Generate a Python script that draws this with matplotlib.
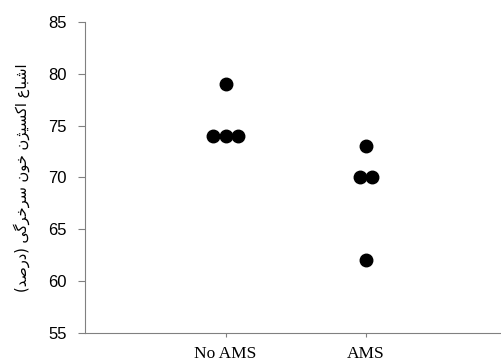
import matplotlib
matplotlib.use('Agg')
import matplotlib.pyplot as plt
import numpy as np

# data
groups = ['No AMS', 'AMS']
no_ams = [79, 74, 74, 74]
ams = [73, 70, 70, 62]
ylabel_fa = 'اشباع اکسیژن خون سرخرگی (درصد)'

# tiny persian shaper (matplotlib does no arabic shaping)
forms = {
    'ا': ('\uFE8D', '\uFE8E', None, None),
    'ب': ('\uFE8F', '\uFE90', '\uFE91', '\uFE92'),
    'ش': ('\uFEB5', '\uFEB6', '\uFEB7', '\uFEB8'),
    'ع': ('\uFEC9', '\uFECA', '\uFECB', '\uFECC'),
    'س': ('\uFEB1', '\uFEB2', '\uFEB3', '\uFEB4'),
    'ن': ('\uFEE5', '\uFEE6', '\uFEE7', '\uFEE8'),
    'خ': ('\uFEA5', '\uFEA6', '\uFEA7', '\uFEA8'),
    'و': ('\uFEED', '\uFEEE', None, None),
    'ر': ('\uFEAD', '\uFEAE', None, None),
    'د': ('\uFEA9', '\uFEAA', None, None),
    'ص': ('\uFEB9', '\uFEBA', '\uFEBB', '\uFEBC'),
    'ژ': ('\uFB8A', '\uFB8B', None, None),
    'ک': ('\uFB8E', '\uFB8F', '\uFB90', '\uFB91'),
    'گ': ('\uFB92', '\uFB93', '\uFB94', '\uFB95'),
    'ی': ('\uFBFC', '\uFBFD', '\uFBFE', '\uFBFF'),
}

def shape(s):
    out = []
    for i, c in enumerate(s):
        if c not in forms:
            out.append(c)
            continue
        prev = s[i-1] if i > 0 else ''
        nxt = s[i+1] if i < len(s)-1 else ''
        jp = prev in forms and forms[prev][2] is not None
        jn = forms[c][2] is not None and nxt in forms
        iso, fin, ini, med = forms[c]
        if jp and jn:
            out.append(med)
        elif jp:
            out.append(fin)
        elif jn:
            out.append(ini)
        else:
            out.append(iso)
    vis = ''.join(out)[::-1]
    return vis.translate(str.maketrans('()', ')('))

def spread(vals, center, step=0.088):
    # put equal values side by side
    xs = []
    seen = {}
    for v in vals:
        n = vals.count(v)
        j = seen.get(v, 0)
        seen[v] = j + 1
        xs.append(center + (j - (n - 1) / 2) * step)
    return xs

fig = plt.figure(figsize=(5.01, 3.63), dpi=100)
ax = fig.add_axes([0.1697, 0.0826, 0.8303, 0.8574])

for i, vals in enumerate([no_ams, ams]):
    ax.plot(spread(vals, i + 1), vals, 'o', color='black', ms=9, mec='black')

ax.set_xlim(0, 2.96)
ax.set_ylim(55, 85)
ax.set_yticks(np.arange(55, 86, 5))
ax.set_xticks([1, 2])
ax.set_xticklabels(groups, family='Liberation Serif', fontsize=12.5)
for lab in ax.get_yticklabels():
    lab.set_family('Liberation Sans')
    lab.set_fontsize(12)

for sp in ['top', 'right']:
    ax.spines[sp].set_visible(False)
for sp in ['left', 'bottom']:
    ax.spines[sp].set_color('#808080')
ax.tick_params(axis='y', length=5, color='#808080', pad=8)
ax.tick_params(axis='x', length=3, color='#808080', pad=6)

ax.set_ylabel(shape(ylabel_fa), family=['DejaVu Sans'], fontsize=10.5, labelpad=13)

fig.savefig('out.png', dpi=100)
